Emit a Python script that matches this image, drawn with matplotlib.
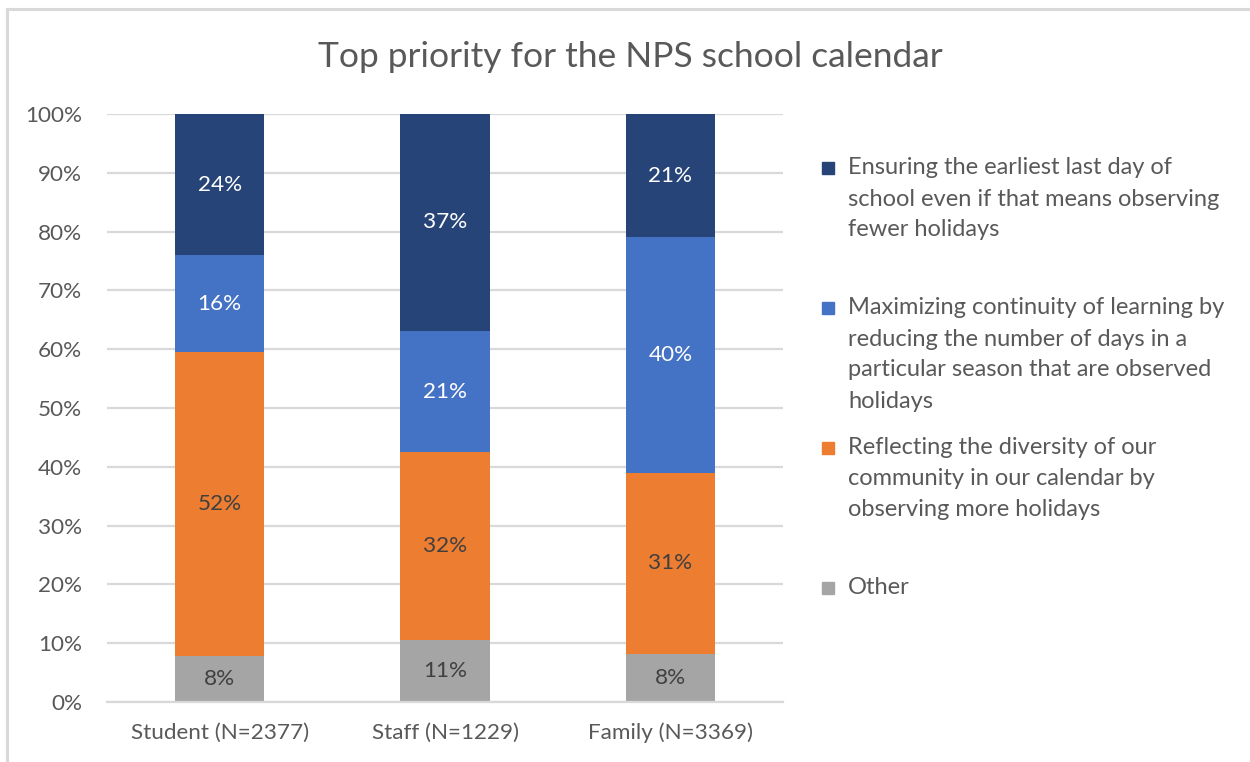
import matplotlib
matplotlib.use("Agg")
import matplotlib.pyplot as plt
from matplotlib.lines import Line2D
from matplotlib.patches import Rectangle

plt.rcParams['font.family'] = ['Lato', 'DejaVu Sans']

# Survey groups and their share of responses for each priority (percent)
groups = ["Student (N=2377)", "Staff (N=1229)", "Family (N=3369)"]
other = [7.9, 10.6, 8.2]
reflecting = [51.6, 31.9, 30.8]
maximizing = [16.5, 20.6, 40.0]
ensuring = [24.0, 36.9, 21.0]

series_names = [
    ["Ensuring the earliest last day of",
     "school even if that means observing",
     "fewer holidays"],
    ["Maximizing continuity of learning by",
     "reducing the number of days in a",
     "particular season that are observed",
     "holidays"],
    ["Reflecting the diversity of our",
     "community in our calendar by",
     "observing more holidays"],
    ["Other"],
]
y_ticks = [0, 10, 20, 30, 40, 50, 60, 70, 80, 90, 100]

colors = {"ensuring": "#264478", "maximizing": "#4472C4",
          "reflecting": "#ED7D31", "other": "#A5A5A5"}
label_colors = {"ensuring": "#FFFFFF", "maximizing": "#FFFFFF",
                "reflecting": "#404040", "other": "#404040"}

W, H = 1250, 762
fig = plt.figure(figsize=(W / 100, H / 100), dpi=100)
fig.patch.set_facecolor("white")

# chart frame (top and left edges visible)
fig.add_artist(Line2D([6.5 / W, 1.0], [1 - 8.5 / H, 1 - 8.5 / H],
                      color="#D9D9D9", lw=2.2, transform=fig.transFigure))
fig.add_artist(Line2D([6.5 / W, 6.5 / W], [0, 1 - 8.5 / H],
                      color="#D9D9D9", lw=2.2, transform=fig.transFigure))

left, right = 107, 783
top, bottom = 114, 702
ax = fig.add_axes([left / W, 1 - bottom / H, (right - left) / W, (bottom - top) / H])

x = list(range(len(groups)))
stack = [("other", other), ("reflecting", reflecting),
         ("maximizing", maximizing), ("ensuring", ensuring)]
base = [0.0] * len(groups)
for key, vals in stack:
    ax.bar(x, vals, bottom=base, width=0.395, color=colors[key], zorder=3)
    for i, v in enumerate(vals):
        ax.text(x[i], base[i] + v / 2, f"{round(v):d}%", ha="center", va="center",
                fontsize=16.2, color=label_colors[key], zorder=4)
    base = [b + v for b, v in zip(base, vals)]

ax.set_xlim(-0.5, len(groups) - 0.5)
ax.set_ylim(0, 100)
ax.set_yticks(y_ticks)
ax.set_yticklabels([f"{t}%" for t in y_ticks])
ax.set_xticks(x)
ax.set_xticklabels(groups)
ax.tick_params(axis="both", length=0, labelsize=16.2, labelcolor="#595959")
ax.tick_params(axis="y", pad=18)
ax.tick_params(axis="x", pad=15)
ax.grid(axis="y", color="#D9D9D9", lw=1.6, zorder=0)
for s in ["top", "right", "left"]:
    ax.spines[s].set_visible(False)
ax.spines["bottom"].set_color("#D9D9D9")
ax.spines["bottom"].set_linewidth(1.6)
ax.spines["bottom"].set_zorder(5)

fig.text(630 / W, 1 - 57 / H, "Top priority for the NPS school calendar",
         ha="center", va="center", fontsize=25.5, color="#595959")

# legend drawn as colored squares with wrapped text
legend_keys = ["ensuring", "maximizing", "reflecting", "other"]
first_line_y = [168, 308, 448, 588]
line_step = 31
for key, lines, yy in zip(legend_keys, series_names, first_line_y):
    fig.add_artist(Rectangle((822 / W, 1 - (yy + 6) / H), 12 / W, 12 / H,
                             color=colors[key], transform=fig.transFigure))
    for k, line in enumerate(lines):
        fig.text(848 / W, 1 - (yy + k * line_step) / H, line, ha="left",
                 va="center", fontsize=17, color="#595959")

fig.savefig("out.png", dpi=100, facecolor="white")
